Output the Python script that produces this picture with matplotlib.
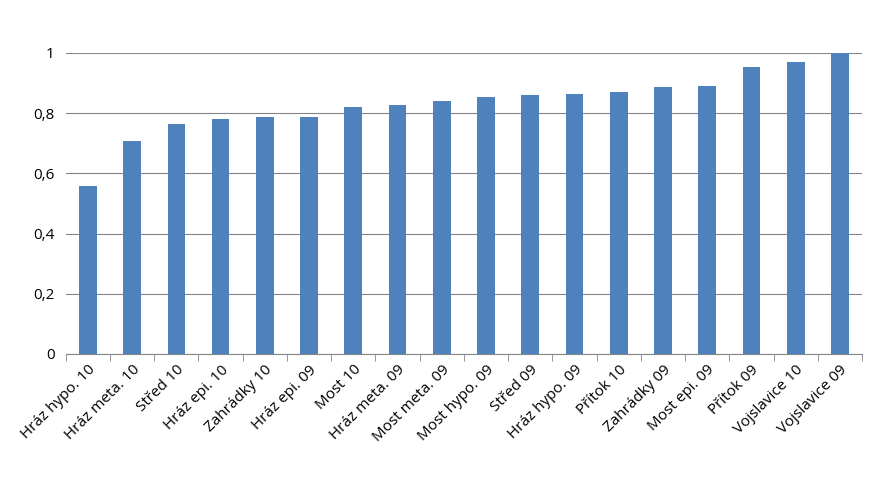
import matplotlib
matplotlib.use("Agg")
import matplotlib.pyplot as plt
import numpy as np

categories = ["Hráz hypo. 10", "Hráz meta. 10", "Střed 10", "Hráz epi. 10", "Zahrádky 10",
              "Hráz epi. 09", "Most 10", "Hráz meta. 09", "Most meta. 09", "Most hypo. 09",
              "Střed 09", "Hráz hypo. 09", "Přítok 10", "Zahrádky 09", "Most epi. 09",
              "Přítok 09", "Vojslavice 10", "Vojslavice 09"]
values = [0.557, 0.708, 0.765, 0.781, 0.786, 0.786, 0.822, 0.828, 0.839, 0.855,
          0.859, 0.864, 0.870, 0.886, 0.891, 0.955, 0.969, 1.0]
yticks = [0, 0.2, 0.4, 0.6, 0.8, 1]
yticklabels = ["0", "0,2", "0,4", "0,6", "0,8", "1"]

plt.rcParams['font.family'] = ['Open Sans', 'DejaVu Sans']
fig = plt.figure(figsize=(8.77, 4.95), dpi=100)
ax = fig.add_axes([0.075, 0.285, 0.908, 0.608])
x = np.arange(len(categories))
ax.bar(x, values, width=0.4, color="#4F81BD", zorder=3)
ax.set_xlim(-0.5, len(categories) - 0.5)
ax.set_ylim(0, 1)
ax.set_yticks(yticks)
ax.set_yticklabels(yticklabels, fontsize=11)
ax.set_xticks(list(x))
ax.set_xticklabels(categories, rotation=45, ha="right", rotation_mode="anchor", fontsize=11)
ax.set_xticks(np.arange(-0.5, len(categories)), minor=True)
ax.grid(axis="y", color="#868686", linewidth=0.8, zorder=0)
for s in ["top", "right", "left"]:
    ax.spines[s].set_visible(False)
ax.spines["bottom"].set_color("#868686")
ax.tick_params(axis="y", length=0, pad=8)
ax.tick_params(axis="x", which="major", length=0, pad=6)
ax.tick_params(axis="x", which="minor", length=5, color="#868686")
fig.savefig("out.png", dpi=100)
